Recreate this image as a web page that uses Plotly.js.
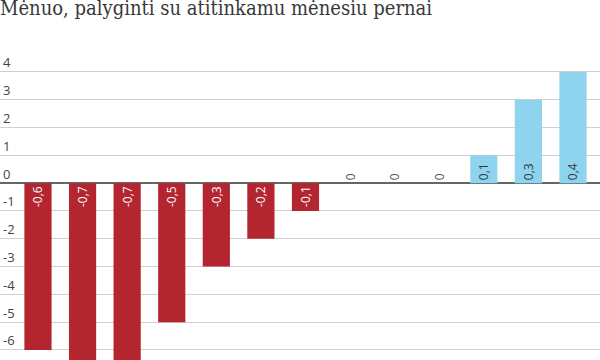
<!DOCTYPE html>
<html>
<head>
<meta charset="utf-8">
<script src="https://cdn.plot.ly/plotly-3.0.1.min.js"></script>
<style>html,body{margin:0;padding:0;background:#fff}#chart{width:600px;height:360px}</style>
</head>
<body>
<div id="chart"></div>
<script>
const categories = ["1","2","3","4","5","6","7","8","9","10","11","12","13"];
const values = [-0.6, -0.7, -0.7, -0.5, -0.3, -0.2, -0.1, 0, 0, 0, 0.1, 0.3, 0.4];
const tickValues = [0.4, 0.3, 0.2, 0.1, 0, -0.1, -0.2, -0.3, -0.4, -0.5, -0.6];
const tickLabels = ["4", "3", "2", "1", "0", "-1", "-2", "-3", "-4", "-5", "-6"];
const titleText = "Mėnuo, palyginti su atitinkamu mėnesiu pernai";

const RED = "#b3252f", BLUE = "#8fd4ee";
const labels = values.map(v => String(v).replace(".", ","));
const colors = values.map(v => v < 0 ? RED : BLUE);
const textColors = values.map(v => v < 0 ? "#ffffff" : (v > 0 ? "#2f3a40" : "#555555"));
const positions = values.map(v => v === 0 ? "outside" : "inside");

const trace = {
  type: "bar",
  x: categories,
  y: values,
  marker: {color: colors, line: {width: 0}},
  text: labels,
  textposition: positions,
  insidetextanchor: "start",
  textangle: -90,
  textfont: {family: "Open Sans", size: 12, color: textColors},
  outsidetextfont: {family: "Open Sans", size: 12, color: "#555555"},
  cliponaxis: true,
  hoverinfo: "skip"
};

const layout = {
  width: 600, height: 360,
  margin: {l: 0, r: 0, t: 40, b: 0, pad: 0},
  paper_bgcolor: "#ffffff",
  plot_bgcolor: "#ffffff",
  showlegend: false,
  bargap: 0.39,
  title: {
    text: titleText,
    font: {family: "DejaVu Serif Condensed", size: 20, color: "#383838", weight: 500},
    x: 0, xref: "container", xanchor: "left",
    y: 0.978, yref: "container", yanchor: "middle",
    pad: {l: 0, t: 0, b: 0, r: 0}
  },
  xaxis: {
    type: "category",
    range: [-0.852, 12.606],
    showticklabels: false,
    showgrid: false,
    zeroline: false,
    ticks: "",
    fixedrange: true
  },
  yaxis: {
    range: [-0.636, 0.515],
    tickvals: tickValues,
    ticktext: tickLabels,
    ticklabelposition: "inside top",
    tickfont: {family: "Open Sans", size: 13, color: "#444444"},
    showgrid: true,
    gridcolor: "#d0d0d0",
    gridwidth: 1,
    zeroline: true,
    zerolinecolor: "#666666",
    zerolinewidth: 1.5,
    ticks: "",
    showline: false,
    fixedrange: true
  }
};

Plotly.newPlot("chart", [trace], layout, {displayModeBar: false, staticPlot: true});
</script>
</body>
</html>
